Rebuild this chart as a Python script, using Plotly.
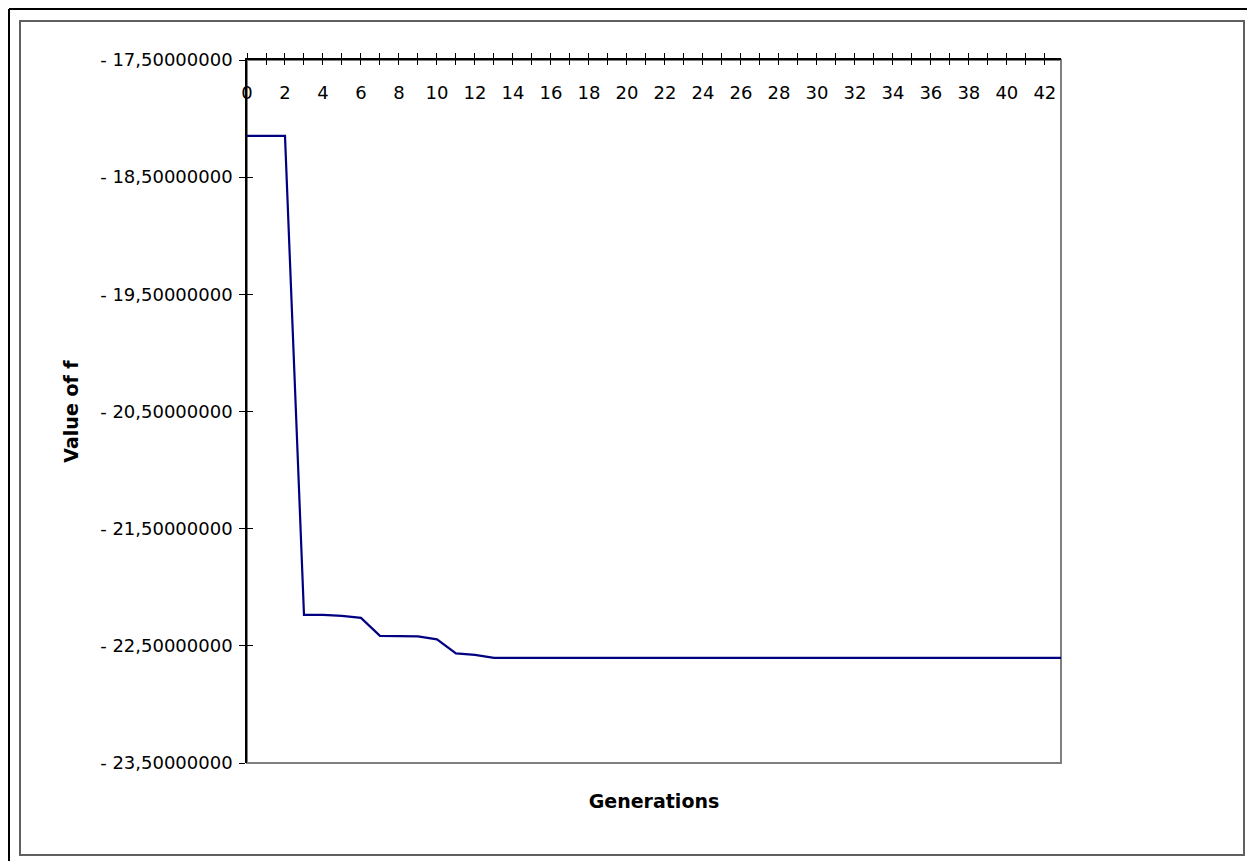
import plotly.graph_objects as go

# ---- data ----
generations = [0, 1, 2, 3, 4, 5, 6, 7, 8, 9, 10, 11, 12, 13, 14, 15, 16, 17, 18, 19, 20,
               21, 22, 23, 24, 25, 26, 27, 28, 29, 30, 31, 32, 33, 34, 35, 36, 37, 38,
               39, 40, 41, 42, 43]
f_values = [-18.148, -18.148, -18.148, -22.236, -22.236, -22.245, -22.261, -22.415,
            -22.415, -22.419, -22.445, -22.564, -22.577, -22.602, -22.602, -22.602,
            -22.602, -22.602, -22.602, -22.602, -22.602, -22.602, -22.602, -22.602,
            -22.602, -22.602, -22.602, -22.602, -22.602, -22.602, -22.602, -22.602,
            -22.602, -22.602, -22.602, -22.602, -22.602, -22.602, -22.602, -22.602,
            -22.602, -22.602, -22.602, -22.602]

x_tick_vals = list(range(0, 43))
x_label_vals = [0, 2, 4, 6, 8, 10, 12, 14, 16, 18, 20, 22, 24, 26, 28, 30, 32, 34, 36,
                38, 40, 42]
x_label_text = [str(v) for v in x_label_vals]
y_tick_vals = [-17.5, -18.5, -19.5, -20.5, -21.5, -22.5, -23.5]
y_tick_text = ["- 17,50000000", "- 18,50000000", "- 19,50000000", "- 20,50000000",
               "- 21,50000000", "- 22,50000000", "- 23,50000000"]

x_range = [0, 42.85]
y_range = [-23.5, -17.5]

FONT = "DejaVu Sans, Verdana, sans-serif"

W, H = 1247, 861
ML, MR, MT, MB = 247, 186, 60, 98
PW, PH = W - ML - MR, H - MT - MB


def px(x):
    """page x pixel -> paper fraction"""
    return (x - ML) / PW


def py(y):
    """page y pixel -> paper fraction"""
    return (H - MB - y) / PH


fig = go.Figure()
fig.add_trace(go.Scatter(x=generations, y=f_values, mode="lines",
                         line=dict(color="#000080", width=2.2), showlegend=False))
# empty traces so the helper axes are drawn
fig.add_trace(go.Scatter(x=[], y=[], xaxis="x2", yaxis="y2", showlegend=False))
fig.add_trace(go.Scatter(x=[], y=[], xaxis="x3", yaxis="y2", showlegend=False))
fig.add_trace(go.Scatter(x=[], y=[], xaxis="x4", yaxis="y2", showlegend=False))

common = dict(range=x_range, showgrid=False, zeroline=False)

fig.update_layout(
    width=W, height=H,
    margin=dict(l=ML, r=MR, t=MT, b=MB, pad=0),
    paper_bgcolor="white", plot_bgcolor="white",
    font=dict(family=FONT, size=18, color="black"),
    # top axis: line + outward ticks
    xaxis=dict(**common, side="top", tickmode="array", tickvals=x_tick_vals,
               ticks="outside", ticklen=5, tickcolor="black", tickwidth=1,
               showticklabels=False, showline=True, linecolor="black", linewidth=1.5),
    # top axis: inward ticks (so ticks cross the line)
    xaxis2=dict(**common, overlaying="x", side="top", anchor="y2", tickmode="array",
                tickvals=x_tick_vals, ticks="inside", ticklen=5, tickcolor="black",
                tickwidth=1, showticklabels=False, showline=False),
    # bottom: title only
    xaxis3=dict(**common, overlaying="x", side="bottom", anchor="y2",
                showticklabels=False, ticks="", showline=False,
                title=dict(text="<b>Generations</b>", standoff=31,
                           font=dict(size=19, family=FONT))),
    # category labels shown just below the top line
    xaxis4=dict(**common, overlaying="x", side="bottom", anchor="free",
                position=py(80), tickmode="array", tickvals=x_label_vals,
                ticktext=x_label_text, ticks="", showline=False,
                tickfont=dict(size=18, color="black")),
    yaxis=dict(range=y_range, tickmode="array", tickvals=y_tick_vals,
               ticktext=y_tick_text, ticks="outside", ticklen=6, tickcolor="black",
               tickwidth=1, showline=True, linecolor="black", linewidth=1.5,
               showgrid=False, zeroline=False, ticklabelstandoff=3,
               tickfont=dict(size=18, color="black"),
               title=dict(text="<b>Value of f</b>", standoff=17,
                          font=dict(size=19, family=FONT))),
    yaxis2=dict(range=y_range, overlaying="y", side="left", anchor="x2",
                tickmode="array", tickvals=y_tick_vals, ticks="inside", ticklen=6,
                tickcolor="black", tickwidth=1, showticklabels=False,
                showline=False, showgrid=False, zeroline=False),
    shapes=[
        # plot area frame (gray right/bottom)
        dict(type="rect", xref="paper", yref="paper", x0=0, x1=1, y0=0, y1=1,
             line=dict(color="#808080", width=2), layer="below"),
        # chart area frame
        dict(type="rect", xref="paper", yref="paper", x0=px(20), x1=px(1244),
             y0=py(855), y1=py(21), line=dict(color="#606060", width=2)),
        # outer page lines
        dict(type="line", xref="paper", yref="paper", x0=px(9), x1=px(1247),
             y0=py(9), y1=py(9), line=dict(color="black", width=2)),
        dict(type="line", xref="paper", yref="paper", x0=px(9), x1=px(9),
             y0=py(861), y1=py(9), line=dict(color="black", width=2)),
    ],
)

fig.write_html("out.html",
               config={"displayModeBar": False},
               post_script="document.body.style.margin='0';"
                           "document.body.style.overflow='hidden';")
